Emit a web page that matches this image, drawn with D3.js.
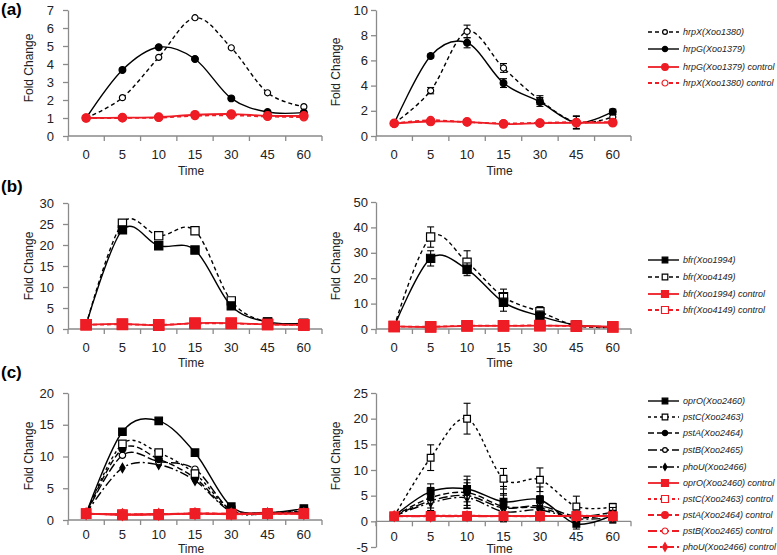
<!DOCTYPE html>
<html><head><meta charset="utf-8">
<script src="https://cdn.jsdelivr.net/npm/d3@7"></script>
<style>
body{margin:0;background:#fff}
svg{display:block}
text{font-family:"Liberation Sans",Arial,Helvetica,sans-serif}
</style>
</head><body>
<svg id="c" width="777" height="555"></svg>
<script>
// ---------- DATA ----------
const times = ["0","5","10","15","30","45","60"];

// (a) left
const a1_hrpX      = [1, 2.13, 4.37, 6.57, 4.9, 2.4, 1.63];
const a1_hrpG      = [1, 3.67, 4.93, 4.28, 2.09, 1.33, 1.3];
const a1_hrpG_ctrl = [1, 1.02, 1.05, 1.18, 1.22, 1.12, 1.12];
const a1_hrpX_ctrl = [1, 1.0, 1.02, 1.12, 1.15, 1.08, 1.05];
// (a) right
const a2_hrpX      = [1, 3.6, 8.3, 5.4, 2.85, 1.1, 1.5];
const a2_hrpX_err  = [0, 0.25, 0.5, 0.35, 0.35, 0.5, 0.2];
const a2_hrpG      = [1, 6.35, 7.4, 4.2, 2.7, 1.05, 1.93];
const a2_hrpG_err  = [0, 0.15, 0.4, 0.35, 0.35, 0.5, 0.2];
const a2_hrpG_ctrl = [1, 1.15, 1.12, 0.95, 1.02, 1.05, 1.05];
const a2_hrpX_ctrl = [1, 1.25, 1.1, 1.0, 1.05, 1.1, 1.1];
const a2_ctrl_err  = [0, 0.1, 0.1, 0.1, 0.1, 0.1, 0.1];

// (b) left
const b1_bfr1994      = [1, 23.6, 19.8, 18.8, 5.5, 1.7, 1.4];
const b1_bfr4149      = [1, 25.2, 22.2, 23.4, 6.7, 1.6, 1.2];
const b1_bfr1994_ctrl = [1, 1.2, 0.9, 1.4, 1.4, 1.1, 1.0];
const b1_bfr4149_ctrl = [1, 1.1, 1.0, 1.3, 1.3, 1.1, 0.9];
// (b) right
const b2_bfr1994      = [1, 27.8, 23.5, 10.5, 5.1, 1.6, 0.9];
const b2_bfr1994_err  = [0, 3, 2.5, 3.5, 2, 0.5, 0.3];
const b2_bfr4149      = [1, 36.2, 26.3, 12.7, 6.8, 1.3, 0.7];
const b2_bfr4149_err  = [0, 4, 4.5, 3, 2, 0.5, 0.3];
const b2_bfr1994_ctrl = [1, 0.8, 1.2, 1.2, 1.3, 1.2, 0.9];
const b2_bfr4149_ctrl = [1, 0.9, 1.3, 1.3, 1.4, 1.1, 0.8];
const b2_ctrl_err     = [0, 0.3, 0.3, 0.3, 0.3, 0.3, 0.3];

// (c) left
const c1_oprO = [1, 13.9, 15.6, 10.6, 2.1, 1.2, 1.8];
const c1_pstC = [1, 12.0, 10.6, 7.3, 1.6, 1.2, 1.4];
const c1_pstA = [1, 11.2, 9.6, 6.6, 1.4, 1.1, 1.3];
const c1_pstB = [1, 10.2, 9.2, 8.0, 1.5, 1.1, 1.2];
const c1_phoU = [1, 8.2, 8.7, 6.2, 1.3, 1.0, 1.3];
const c1_oprO_ctrl = [1, 0.8, 0.85, 1.0, 0.9, 1.0, 1.0];
const c1_pstC_ctrl = [1, 0.85, 0.9, 1.0, 0.95, 1.0, 1.0];
const c1_pstA_ctrl = [1, 0.9, 0.9, 1.05, 1.0, 1.05, 1.0];
const c1_pstB_ctrl = [1, 0.9, 0.95, 1.0, 1.0, 1.0, 1.05];
const c1_phoU_ctrl = [1, 0.85, 0.9, 1.0, 0.95, 1.0, 1.0];
// (c) right
const c2_oprO = [1, 5.8, 6.3, 3.8, 4.2, -0.5, 1.2];
const c2_oprO_err = [0, 1.5, 2.5, 3, 2.5, 1, 1.5];
const c2_pstC = [1, 12.4, 20.0, 8.3, 8.1, 2.9, 2.8];
const c2_pstC_err = [0, 2.5, 3, 2, 2.3, 2, 0.7];
const c2_pstA = [1, 4.6, 5.6, 2.9, 2.6, 0.7, 1.4];
const c2_pstA_err = [0, 2, 2.5, 2.5, 2, 1, 1.5];
const c2_pstB = [1, 4.0, 5.0, 2.6, 3.0, 1.0, 1.8];
const c2_pstB_err = [0, 2, 2.5, 2.5, 2, 1, 1];
const c2_phoU = [1, 3.6, 4.6, 1.9, 2.2, 0.5, 0.7];
const c2_phoU_err = [0, 1.5, 2, 2, 1.5, 1, 1];
const c2_oprO_ctrl = [1, 1.0, 1.0, 1.0, 1.0, 1.0, 1.0];
const c2_pstC_ctrl = [1, 1.1, 1.1, 1.05, 1.05, 1.1, 1.0];
const c2_pstA_ctrl = [1, 1.0, 1.05, 1.0, 1.0, 1.05, 1.0];
const c2_pstB_ctrl = [1, 1.05, 1.0, 1.0, 1.05, 1.0, 1.05];
const c2_phoU_ctrl = [1, 0.95, 1.0, 1.0, 1.0, 1.0, 1.0];
const c2_ctrl_err  = [0, 0.3, 0.3, 0.3, 0.3, 0.3, 0.3];

// ---------- STYLES ----------
const BLACK = "#000", RED = "#ee1c24";
const st = {
  hrpX:  {color: BLACK, dash: "4,3", sym: "circle", fill: false},
  hrpG:  {color: BLACK, dash: null,  sym: "circle", fill: true},
  hrpGc: {color: RED,   dash: null,  sym: "circle", fill: true},
  hrpXc: {color: RED,   dash: "4,3", sym: "circle", fill: false},
  b94:   {color: BLACK, dash: null,  sym: "square", fill: true},
  b49:   {color: BLACK, dash: "4,3", sym: "square", fill: false},
  b94c:  {color: RED,   dash: null,  sym: "square", fill: true},
  b49c:  {color: RED,   dash: "4,3", sym: "square", fill: false},
  oprO:  {color: BLACK, dash: null,  sym: "square", fill: true},
  pstC:  {color: BLACK, dash: "3,3", sym: "square", fill: false},
  pstA:  {color: BLACK, dash: "6,3", sym: "circle", fill: true},
  pstB:  {color: BLACK, dash: "9,3", sym: "circle", fill: false},
  phoU:  {color: BLACK, dash: "9,3,2,3", sym: "diamond", fill: true},
};
const red = s => Object.assign({}, s, {color: RED});

const panels = [
  {x0:68, x1:322, yTop:10, yBot:136, dom:[0,7], step:1, pad:9, ylx:29, yly:68, timeY:171, lblPad:14, sz:0.95,
   series:[{v:a1_hrpX, s:st.hrpX},{v:a1_hrpG, s:st.hrpG},{v:a1_hrpX_ctrl, s:st.hrpXc},{v:a1_hrpG_ctrl, s:st.hrpGc}]},
  {x0:376, x1:631, yTop:10, yBot:136, dom:[0,10], step:2, pad:3, ylx:336, yly:72, timeY:171, lblPad:14, sz:0.95,
   series:[{v:a2_hrpX, e:a2_hrpX_err, s:st.hrpX},{v:a2_hrpG, e:a2_hrpG_err, s:st.hrpG},
           {v:a2_hrpX_ctrl, e:a2_ctrl_err, s:st.hrpXc},{v:a2_hrpG_ctrl, e:a2_ctrl_err, s:st.hrpGc}]},
  {x0:68, x1:322, yTop:203, yBot:329, dom:[0,30], step:5, pad:9, ylx:29, yly:266, timeY:363, lblPad:14, sz:1.1,
   series:[{v:b1_bfr4149, s:st.b49},{v:b1_bfr1994, s:st.b94},{v:b1_bfr4149_ctrl, s:st.b49c},{v:b1_bfr1994_ctrl, s:st.b94c}]},
  {x0:376, x1:631, yTop:202, yBot:329, dom:[0,50], step:10, pad:3, ylx:336, yly:266, timeY:363, lblPad:14, sz:1.1,
   series:[{v:b2_bfr4149, e:b2_bfr4149_err, s:st.b49},{v:b2_bfr1994, e:b2_bfr1994_err, s:st.b94},
           {v:b2_bfr4149_ctrl, e:b2_ctrl_err, s:st.b49c},{v:b2_bfr1994_ctrl, e:b2_ctrl_err, s:st.b94c}]},
  {x0:68, x1:322, yTop:393, yBot:520, dom:[0,20], step:5, pad:9, ylx:29, yly:456, timeY:549, lblPad:10, sz:1.0,
   series:[{v:c1_phoU, s:st.phoU},{v:c1_pstB, s:st.pstB},{v:c1_pstA, s:st.pstA},{v:c1_pstC, s:st.pstC},{v:c1_oprO, s:st.oprO},
           {v:c1_phoU_ctrl, s:red(st.phoU)},{v:c1_pstB_ctrl, s:red(st.pstB)},{v:c1_pstA_ctrl, s:red(st.pstA)},
           {v:c1_pstC_ctrl, s:red(st.pstC)},{v:c1_oprO_ctrl, s:red(st.oprO)}]},
  {x0:376, x1:631, yTop:393, yBot:547, dom:[-5,25], step:5, pad:3, ylx:336, yly:456, timeY:549, lblPad:10, sz:0.9,
   series:[{v:c2_phoU, e:c2_phoU_err, s:st.phoU},{v:c2_pstB, e:c2_pstB_err, s:st.pstB},{v:c2_pstA, e:c2_pstA_err, s:st.pstA},
           {v:c2_pstC, e:c2_pstC_err, s:st.pstC},{v:c2_oprO, e:c2_oprO_err, s:st.oprO},
           {v:c2_phoU_ctrl, e:c2_ctrl_err, s:red(st.phoU)},{v:c2_pstB_ctrl, e:c2_ctrl_err, s:red(st.pstB)},
           {v:c2_pstA_ctrl, e:c2_ctrl_err, s:red(st.pstA)},{v:c2_pstC_ctrl, e:c2_ctrl_err, s:red(st.pstC)},
           {v:c2_oprO_ctrl, e:c2_ctrl_err, s:red(st.oprO)}]},
];

const legends = [
  {x:648, rows:[32,49,67,83], items:[
    ["hrpX(Xoo1380)", st.hrpX],["hrpG(Xoo1379)", st.hrpG],["hrpG(Xoo1379) control", st.hrpGc],["hrpX(Xoo1380) control", st.hrpXc]]},
  {x:648, rows:[260,277,294,310], items:[
    ["bfr(Xoo1994)", st.b94],["bfr(Xoo4149)", st.b49],["bfr(Xoo1994) control", st.b94c],["bfr(Xoo4149) control", st.b49c]]},
  {x:648, rows:[401,417,433,450,467,483,499,515,531,547], items:[
    ["oprO(Xoo2460)", st.oprO],["pstC(Xoo2463)", st.pstC],["pstA(Xoo2464)", st.pstA],["pstB(Xoo2465)", st.pstB],["phoU(Xoo2466)", st.phoU],
    ["oprO(Xoo2460) control", red(st.oprO)],["pstC(Xoo2463) control", red(st.pstC)],["pstA(Xoo2464) control", red(st.pstA)],
    ["pstB(Xoo2465) control", red(st.pstB)],["phoU(Xoo2466) control", red(st.phoU)]]},
];

// ---------- DRAW ----------
const svg = d3.select("#c");
const curve = d3.curveCardinal.tension(0);
const AX = "#8a8a8a", TX = "#222";

function symPath(s, k) {
  const base = s.color === RED ? 1.25 : 1;
  const f = k * k * base * base;
  if (s.sym === "circle") return d3.symbol(d3.symbolCircle, (s.fill ? 40 : 32) * f)();
  if (s.sym === "square") return d3.symbol(d3.symbolSquare, 56 * f)();
  return d3.symbol(d3.symbolDiamond, 24 * f)();
}
function drawMarker(g, s, x, y, k) {
  g.append("path").attr("d", symPath(s, k)).attr("transform", `translate(${x},${y})`)
    .attr("fill", s.fill ? s.color : "#fff").attr("stroke", s.color).attr("stroke-width", 1.2);
}

panels.forEach(p => {
  const g = svg.append("g");
  const x = d3.scaleBand().domain(times).range([p.x0, p.x1]);
  const y = d3.scaleLinear().domain(p.dom).range([p.yBot, p.yTop]);
  const cx = t => x(t) + x.bandwidth() / 2;

  const ya = g.append("g").attr("transform", `translate(${p.x0},0)`)
    .call(d3.axisLeft(y).tickValues(d3.range(p.dom[0], p.dom[1] + p.step / 2, p.step))
      .tickFormat(d => String(d))
      .tickSize(5).tickSizeOuter(0).tickPadding(p.pad));
  const y0 = y(0);
  const xa = g.append("g").attr("transform", `translate(0,${y0})`)
    .call(d3.axisBottom(x).tickSize(0).tickSizeOuter(0).tickPadding(p.lblPad));
  xa.select(".domain").remove();
  g.append("line").attr("x1", p.x0).attr("x2", p.x1).attr("y1", y0).attr("y2", y0).attr("stroke", AX).attr("stroke-width", 1.3);
  g.append("g").selectAll("line").data(d3.range(times.length + 1)).join("line")
    .attr("x1", i => p.x0 + i * x.bandwidth()).attr("x2", i => p.x0 + i * x.bandwidth())
    .attr("y1", y0).attr("y2", y0 + 5).attr("stroke", AX).attr("stroke-width", 1.3);
  [ya, xa].forEach(a => {
    a.selectAll(".domain, .tick line").attr("stroke", AX).attr("stroke-width", 1.3);
    a.selectAll("text").attr("fill", TX).style("font-size", "13px");
  });

  g.append("text").attr("x", (p.x0 + p.x1) / 2 - 4).attr("y", p.timeY).attr("dy", "0.35em")
    .attr("text-anchor", "middle").attr("fill", TX).style("font-size", "12px").text("Time");
  g.append("text").attr("transform", `translate(${p.ylx},${p.yly}) rotate(-90)`).attr("dy", "0.35em")
    .attr("text-anchor", "middle").attr("fill", TX).style("font-size", "12px").text("Fold Change");

  p.series.forEach(sr => {
    const s = sr.s;
    const pts = times.map((t, i) => ({x: cx(t), v: sr.v[i], e: sr.e ? sr.e[i] : 0}));
    g.append("path")
      .attr("d", d3.line().x(d => d.x).y(d => y(d.v)).curve(curve)(pts))
      .attr("fill", "none").attr("stroke", s.color)
      .attr("stroke-width", s.color === RED ? 1.8 : 1.4)
      .attr("stroke-dasharray", s.dash);
    if (sr.e) {
      pts.filter(d => d.e > 0).forEach(d => {
        const eb = g.append("g").attr("stroke", s.color).attr("stroke-width", 1.1);
        eb.append("line").attr("x1", d.x).attr("x2", d.x).attr("y1", y(d.v - d.e)).attr("y2", y(d.v + d.e));
        eb.append("line").attr("x1", d.x - 3.5).attr("x2", d.x + 3.5).attr("y1", y(d.v - d.e)).attr("y2", y(d.v - d.e));
        eb.append("line").attr("x1", d.x - 3.5).attr("x2", d.x + 3.5).attr("y1", y(d.v + d.e)).attr("y2", y(d.v + d.e));
      });
    }
    pts.forEach(d => drawMarker(g, s, d.x, y(d.v), p.sz));
  });
});

// panel labels
[["(a)", 15], ["(b)", 192], ["(c)", 378]].forEach(([t, yy]) => {
  svg.append("text").attr("x", 1).attr("y", yy).attr("fill", "#000")
    .style("font-size", "17px").style("font-weight", "bold").text(t);
});

// legends
legends.forEach(L => {
  const g = svg.append("g");
  L.items.forEach(([name, s], i) => {
    const yy = L.rows[i];
    g.append("line").attr("x1", L.x).attr("x2", L.x + 31).attr("y1", yy).attr("y2", yy)
      .attr("stroke", s.color).attr("stroke-width", s.color === RED ? 1.8 : 1.4).attr("stroke-dasharray", s.dash);
    drawMarker(g, s, L.x + 17, yy, 0.75);
    g.append("text").attr("x", L.x + 35).attr("y", yy).attr("dy", "0.35em")
      .attr("fill", TX).style("font-size", "9px").style("font-style", "italic").text(name);
  });
});
</script>
</body></html>
